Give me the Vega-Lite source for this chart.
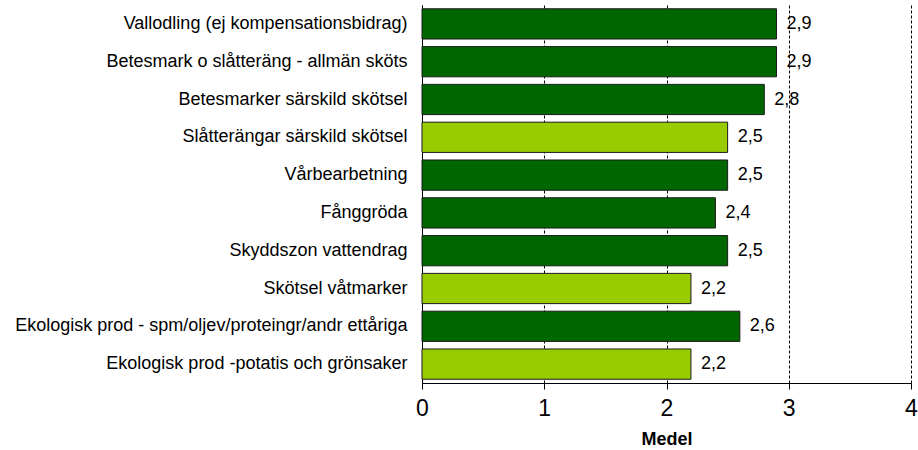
{
  "$schema": "https://vega.github.io/schema/vega-lite/v6.json",
  "width": 489,
  "height": 378,
  "autosize": {"type": "none"},
  "padding": {"left": 422, "top": 5, "right": 7, "bottom": 67},
  "config": {
    "view": {"stroke": null},
    "font": "Liberation Sans",
    "locale": {"number": {"decimal": ",", "thousands": " ", "grouping": [3], "currency": ["", " kr"]}}
  },
  "data": {
    "values": [
      {"item": "Vallodling (ej kompensationsbidrag)", "value": 2.9, "group": "a"},
      {"item": "Betesmark o slåtteräng - allmän sköts", "value": 2.9, "group": "a"},
      {"item": "Betesmarker särskild skötsel", "value": 2.8, "group": "a"},
      {"item": "Slåtterängar särskild skötsel", "value": 2.5, "group": "b"},
      {"item": "Vårbearbetning", "value": 2.5, "group": "a"},
      {"item": "Fånggröda", "value": 2.4, "group": "a"},
      {"item": "Skyddszon vattendrag", "value": 2.5, "group": "a"},
      {"item": "Skötsel våtmarker", "value": 2.2, "group": "b"},
      {"item": "Ekologisk prod - spm/oljev/proteingr/andr ettåriga", "value": 2.6, "group": "a"},
      {"item": "Ekologisk prod -potatis och grönsaker", "value": 2.2, "group": "b"}
    ]
  },
  "encoding": {
    "y": {
      "field": "item", "type": "nominal", "sort": null,
      "scale": {"paddingInner": 0.2, "paddingOuter": 0.1},
      "axis": {"title": null, "ticks": false, "labelPadding": 15, "labelFontSize": 18, "labelColor": "#000", "labelLimit": 420, "domainColor": "#000"}
    },
    "x": {
      "field": "value", "type": "quantitative",
      "scale": {"domain": [0, 4], "nice": false},
      "axis": {
        "title": "Medel", "titleFontSize": 18, "titleFontWeight": "bold", "titleColor": "#000", "titlePadding": 10,
        "values": [0, 1, 2, 3, 4], "format": "d", "labelFlush": false,
        "labelFontSize": 23, "labelColor": "#000", "labelPadding": 8,
        "tickColor": "#000", "tickSize": 6, "domainColor": "#000",
        "grid": true, "gridColor": "#000", "gridDash": [3, 2], "gridWidth": 1
      }
    }
  },
  "layer": [
    {
      "mark": {"type": "bar", "stroke": "#1a1a1a", "strokeWidth": 1},
      "encoding": {
        "color": {
          "field": "group", "type": "nominal",
          "scale": {"domain": ["a", "b"], "range": ["#006600", "#99CC00"]},
          "legend": null
        }
      }
    },
    {
      "mark": {"type": "text", "align": "left", "dx": 10, "fontSize": 18, "color": "#000"},
      "encoding": {"text": {"field": "value", "type": "quantitative", "format": ".1f"}}
    }
  ]
}
